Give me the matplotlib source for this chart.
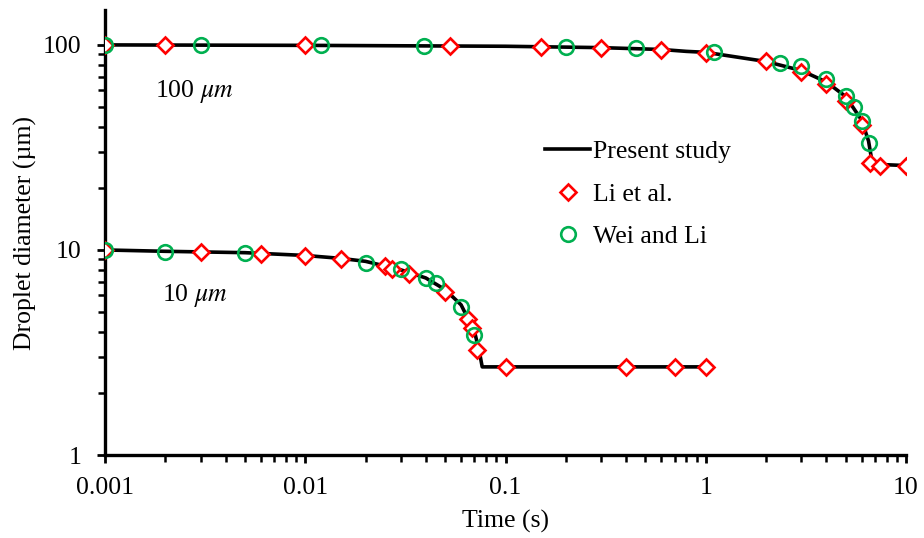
import numpy as np
import matplotlib
matplotlib.use('Agg')
import matplotlib.pyplot as plt
from matplotlib.ticker import LogLocator, NullFormatter, FixedLocator, FixedFormatter

# ----- DATA -----
# 100 um droplet
t_100_model = [0.001, 0.01, 0.1, 0.3, 0.6, 0.8, 1.0, 2.0, 3.0, 4.0, 5.0, 6.0, 6.5, 6.8, 10.0]
d_100_model = [100, 99.5, 98.5, 97, 95, 93, 92, 83, 75, 66, 56, 43, 34, 26.2, 25.8]
t_100_li = [0.001, 0.002, 0.01, 0.053, 0.15, 0.3, 0.6, 1.0, 2.0, 3.0, 4.0, 5.0, 6.0, 6.6, 7.4, 10.0]
d_100_li = [100, 100, 99.5, 99, 98.1, 97.0, 94.5, 91.4, 83.1, 73.4, 64.5, 53.3, 40.5, 26.7, 25.8, 25.8]
t_100_wei = [0.001, 0.003, 0.012, 0.039, 0.2, 0.45, 1.1, 2.35, 3.0, 4.0, 5.0, 5.5, 6.0, 6.5]
d_100_wei = [100, 100, 99.5, 98.9, 98.0, 96.4, 92.1, 82.0, 79.0, 68.3, 56.4, 50.0, 42.7, 33.4]

# 10 um droplet
t_10_model = [0.001, 0.002, 0.005, 0.01, 0.015, 0.02, 0.03, 0.04, 0.05, 0.06, 0.07, 0.074, 0.0765, 1.0]
d_10_model = [10, 9.85, 9.7, 9.4, 9.1, 8.8, 8.0, 7.3, 6.4, 5.4, 4.0, 3.2, 2.69, 2.69]
t_10_li = [0.001, 0.003, 0.006, 0.01, 0.015, 0.025, 0.027, 0.033, 0.05, 0.065, 0.068, 0.072, 0.1, 0.4, 0.7, 1.0]
d_10_li = [10, 9.81, 9.53, 9.35, 8.99, 8.35, 8.05, 7.64, 6.26, 4.62, 4.15, 3.25, 2.69, 2.69, 2.69, 2.69]
t_10_wei = [0.001, 0.002, 0.005, 0.02, 0.03, 0.04, 0.045, 0.06, 0.07]
d_10_wei = [10, 9.81, 9.7, 8.67, 8.05, 7.28, 6.93, 5.25, 3.85]

x_ticks = [0.001, 0.01, 0.1, 1, 10]
x_tick_labels = ['0.001', '0.01', '0.1', '1', '10']
y_ticks = [1, 10, 100]
y_tick_labels = ['1', '10', '100']

# ----- STYLE -----
plt.rcParams['font.family'] = ['Liberation Serif', 'DejaVu Serif']
plt.rcParams['mathtext.fontset'] = 'stix'
FS = 18.5
RED = '#FF0000'
GREEN = '#00B050'

fig = plt.figure(figsize=(9.24, 5.38), dpi=100)
ax = fig.add_axes([105 / 924, 83 / 538, 801 / 924, 445 / 538])

line_kw = dict(color='black', lw=2.6, zorder=2)
li_kw = dict(ls='none', marker='D', ms=8.4, mfc='white', mec=RED, mew=1.9, zorder=3)
wei_kw = dict(ls='none', marker='o', ms=10.5, mfc='none', mec=GREEN, mew=1.9, zorder=4)

ax.plot(t_100_model, d_100_model, label='Present study', **line_kw)
ax.plot(t_100_li, d_100_li, label='Li et al.', **li_kw)
ax.plot(t_100_wei, d_100_wei, label='Wei and Li', **wei_kw)
ax.plot(t_10_model, d_10_model, **line_kw)
ax.plot(t_10_li, d_10_li, **li_kw)
ax.plot(t_10_wei, d_10_wei, **wei_kw)

ax.set_xscale('log')
ax.set_yscale('log')
ax.set_xlim(0.001, 10)
ax.set_ylim(1, 148)

ax.xaxis.set_major_locator(FixedLocator(x_ticks))
ax.xaxis.set_major_formatter(FixedFormatter(x_tick_labels))
ax.yaxis.set_major_locator(FixedLocator(y_ticks))
ax.yaxis.set_major_formatter(FixedFormatter(y_tick_labels))
ax.xaxis.set_minor_locator(LogLocator(base=10, subs=np.arange(2, 10)))
ax.yaxis.set_minor_locator(LogLocator(base=10, subs=np.arange(2, 10)))
ax.xaxis.set_minor_formatter(NullFormatter())
ax.yaxis.set_minor_formatter(NullFormatter())

ax.tick_params(axis='x', which='major', direction='out', length=6, width=2, labelsize=FS, pad=10)
ax.tick_params(axis='y', which='major', direction='out', length=6, width=2, labelsize=FS, pad=11)
ax.tick_params(which='minor', direction='out', length=5, width=1.8)

for side in ['top', 'right']:
    ax.spines[side].set_visible(False)
for side in ['left', 'bottom']:
    ax.spines[side].set_linewidth(2.4)

ax.set_xlabel('Time (s)', fontsize=FS, labelpad=8)
ax.set_ylabel('Droplet diameter (µm)', fontsize=FS, labelpad=4)

ax.text(0.00178, 59, '100 $\\mu m$', fontsize=FS, va='center', ha='left')
ax.text(0.00193, 6.0, '10 $\\mu m$', fontsize=FS, va='center', ha='left')

ax.legend(loc='upper left', bbox_to_anchor=(0.521, 0.759), frameon=False,
          fontsize=FS, handlelength=1.75, handletextpad=0.12, labelspacing=0.75)

fig.savefig('out.png', dpi=100)
